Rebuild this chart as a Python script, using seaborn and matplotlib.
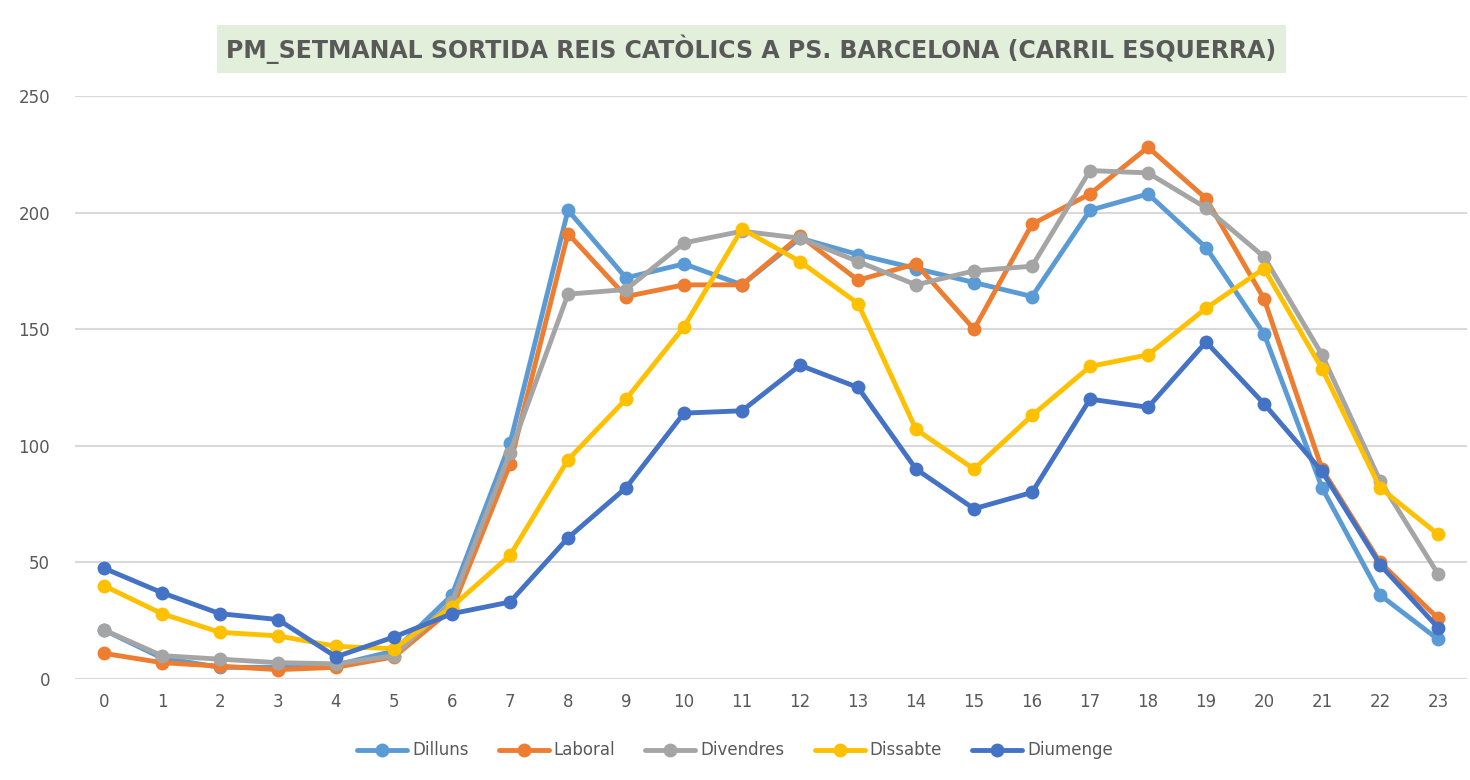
import numpy as np
import pandas as pd
import seaborn as sns
import matplotlib.pyplot as plt

hores = list(range(24))
dilluns = [21, 9, 5, 5, 6, 12, 36, 101, 201, 172, 178, 169, 189, 182, 176, 170, 164, 201, 208, 185, 148, 82, 36, 17]
laboral = [11, 7, 5.5, 4, 5, 9.5, 30, 92, 191, 164, 169, 169, 190, 171, 178, 150, 195, 208, 228, 206, 163, 90, 50, 26]
divendres = [21, 10, 8.5, 7, 6.5, 10, 33, 97, 165, 167, 187, 192, 189, 179, 169, 175, 177, 218, 217, 202, 181, 139, 85, 45]
dissabte = [40, 28, 20, 18.5, 14, 13, 31, 53, 94, 120, 151, 193, 179, 161, 107, 90, 113, 134, 139, 159, 176, 133, 82, 62]
diumenge = [47.5, 37, 28, 25.5, 9.5, 18, 28, 33, 60.5, 82, 114, 115, 134.5, 125, 90, 73, 80, 120, 116.5, 144.5, 118, 89, 49, 22]

series = {'Dilluns': dilluns, 'Laboral': laboral, 'Divendres': divendres,
          'Dissabte': dissabte, 'Diumenge': diumenge}
colors = ['#5B9BD5', '#ED7D31', '#A5A5A5', '#FFC000', '#4472C4']

df = pd.concat([pd.DataFrame({'hora': hores, 'valor': v, 'dia': k}) for k, v in series.items()])

sns.set_style('white')
plt.rcParams['font.family'] = ['DejaVu Sans']
txt = '#595959'

fig = plt.figure(figsize=(14.7, 7.8), dpi=100)
ax = fig.add_axes([0.051, 0.1295, 0.947, 0.7475])

sns.lineplot(data=df, x='hora', y='valor', hue='dia', palette=colors, marker='o',
             markersize=10, markeredgewidth=0, linewidth=3.5, ax=ax, legend=True)

ax.set_xlim(-0.5, 23.5)
ax.set_ylim(0, 250)
ax.set_xticks(hores)
ax.set_yticks(range(0, 251, 50))
ax.yaxis.grid(True, color='#D9D9D9', linewidth=1.5)
ax.set_axisbelow(True)
for s in ax.spines.values():
    s.set_visible(False)
ax.tick_params(axis='both', length=0, labelsize=12, labelcolor=txt)
ax.tick_params(axis='x', pad=10)
ax.tick_params(axis='y', pad=18)
ax.set_xlabel('')
ax.set_ylabel('')

h, l = ax.get_legend_handles_labels()
ax.legend(h, l, loc='center', bbox_to_anchor=(0.5, 0.038), bbox_transform=fig.transFigure,
          ncol=5, frameon=False, fontsize=12, labelcolor=txt, handlelength=3,
          columnspacing=1.8, handletextpad=0.3)

fig.text(0.511, 0.937, 'PM_SETMANAL SORTIDA REIS CATÒLICS A PS. BARCELONA (CARRIL ESQUERRA)',
         ha='center', va='center', fontsize=17, fontweight='bold', color=txt,
         bbox=dict(boxstyle='square,pad=0.4', facecolor='#E2EFDA', edgecolor='none'))

fig.savefig('out.png', dpi=100)
